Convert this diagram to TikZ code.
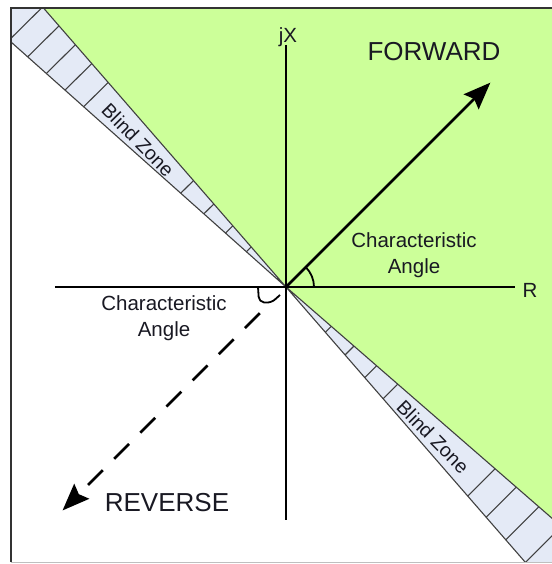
\documentclass[tikz,border=0pt]{standalone}
\usepackage{fontspec}
\setmainfont{Liberation Sans}
\usetikzlibrary{arrows.meta}
\definecolor{fwdgreen}{RGB}{204,255,153}
\definecolor{bandfill}{RGB}{228,234,246}
\definecolor{txt}{RGB}{25,25,35}
\tikzset{
  axisline/.style={line width=2.6pt, black},
  bandedge/.style={line width=1.1pt, black!75},
  tickline/.style={line width=1.1pt, black!75},
  bigarrow/.style={line width=2.7pt, -{Stealth[length=27pt,width=21pt,inset=4pt]}},
  lbl/.style={text=txt, inner sep=0pt, font=\fontsize{20.5}{26}\selectfont, align=center},
  biglbl/.style={text=txt, inner sep=0pt, font=\fontsize{26}{30}\selectfont},
  zonelbl/.style={text=txt, inner sep=0pt, font=\fontsize{19.5}{22}\selectfont, rotate=-45.5},
}
\begin{document}
\begin{tikzpicture}[x=1pt,y=1pt]
\useasboundingbox (-286,-277) rectangle (265,287);
\coordinate (O) at (0,0);
\begin{scope}
  \clip (-275,-275) rectangle (266,279);
  \fill[white] (-275,-275) rectangle (266,279);
  \fill[fwdgreen] (O) -- (-41:900) -- (0:900) -- (45:900) -- (90:900) -- (131:900) -- cycle;
  \fill[bandfill] (O) -- (131:900) -- (138.3:900) -- cycle;
  \fill[bandfill] (O) -- (-49:900) -- (-41:900) -- cycle;
  \draw[bandedge] (131:900) -- (O) -- (138.3:900);
  \draw[bandedge] (-49:900) -- (O) -- (-41:900);
  \foreach \r in {53,81,110,141,271,296,321,346,371,396}
    \draw[tickline] (131:\r) -- (138.3:\r);
  \foreach \r in {60,90,120,148,277,305,335,365,395}
    \draw[tickline] (-49:\r) -- (-41:\r);
\end{scope}
% frame
\draw[line width=1.6pt, black!80] (-275,-275) -- (-275,279) -- (266,279);
\draw[line width=1pt, black!25] (-275,-275) -- (266,-275);
% axes
\coordinate (hl) at (-231,0);
\coordinate (hr) at (229,0);
\coordinate (vt) at (0,242);
\coordinate (vb) at (0,-233);
\draw[axisline] (hl) -- (hr);
\draw[axisline] (vt) -- (vb);
% arrows
\coordinate (fwd) at (45:289);
\coordinate (revs) at (225:37);
\coordinate (rev) at (225:316);
\draw[bigarrow] (O) -- (fwd);
\draw[bigarrow, dash pattern=on 21pt off 16pt] (revs) -- (rev);
% angle markers
\draw[line width=1.8pt] (28,0) arc[start angle=0, end angle=45, radius=28];
\draw[line width=1.8pt, rounded corners=5pt] (-28,0) -- (-27,-15) -- (-15,-16) -- (-6,-8);
% labels
\node[lbl] (jx) at (2,250) {jX};
\node[lbl] (r) at (244,-3) {R};
\node[biglbl] (fw) at (148,235) {FORWARD};
\node[biglbl] (rv) at (-119,-216) {REVERSE};
\node[lbl] (ca1) at (128,32) {Characteristic\\Angle};
\node[lbl] (ca2) at (-122,-31) {Characteristic\\Angle};
\node[zonelbl] (bz1) at (-148,147) {Blind Zone};
\node[zonelbl] (bz2) at (147,-150) {Blind Zone};
\end{tikzpicture}
\end{document}
